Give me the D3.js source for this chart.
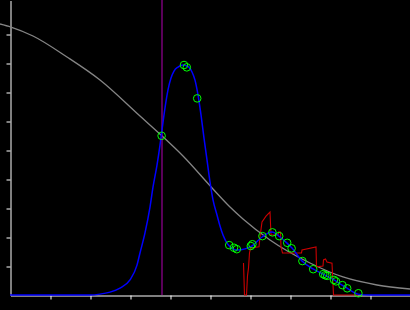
<!DOCTYPE html>
<html>
<head>
<meta charset="utf-8">
<script src="https://cdn.jsdelivr.net/npm/d3@7"></script>
<style>
  html, body { margin: 0; padding: 0; background: #000; }
  svg { display: block; }
</style>
</head>
<body>
<div id="chart"></div>
<script>
// tick positions on both axes (no labels in the picture)
var xTicks = [1, 2, 3, 4, 5, 6, 7, 8, 9];
var yTicks = [1, 2, 3, 4, 5, 6, 7, 8, 9];

// marker position (purple vertical line)
var markerX = 3.8;

// grey falling curve
var greyX = [-0.25, 0.025, 0.575, 1.425, 2.25, 3.25, 3.775, 4.325, 5.075, 5.5, 5.825, 6.5, 7.5, 8.325, 9.175, 10];
var greyY = [9.345, 9.241, 8.931, 8.207, 7.414, 6.172, 5.517, 4.793, 3.655, 3.034, 2.621, 1.897, 1.103, 0.621, 0.345, 0.207];

// blue curve
var blueX = [0, 2.0, 2.25, 2.5, 2.75, 3.0, 3.175, 3.25, 3.375, 3.5, 3.575, 3.675, 3.75, 3.8, 3.875, 3.95,
             4.025, 4.1, 4.2, 4.325, 4.4, 4.475, 4.55, 4.625, 4.7, 4.775, 4.85, 4.925, 5.0, 5.075, 5.175,
             5.25, 5.325, 5.45, 5.675, 5.875, 6.05, 6.3, 6.55, 6.75, 6.925, 7.05, 7.3, 7.575, 7.825,
             8.1, 8.3, 8.425, 8.7, 9.0, 10];
var blueY = [0, 0, 0.03, 0.10, 0.24, 0.52, 1.03, 1.45, 2.14, 3.03, 3.72, 4.48, 5.17, 5.69, 6.45, 7.07,
             7.48, 7.72, 7.86, 7.93, 7.91, 7.85, 7.69, 7.41, 6.90, 6.21, 5.41, 4.66, 3.90, 3.28, 2.76,
             2.38, 2.07, 1.74, 1.55, 1.59, 1.69, 2.0, 2.17, 2.0, 1.79, 1.62, 1.17, 0.90, 0.72,
             0.52, 0.34, 0.24, 0.03, 0, 0];

// red jagged line
var redX = [5.8375, 5.8625, 5.9125, 5.9375, 5.9625, 5.9875, 6.0125, 6.225, 6.25, 6.3, 6.4, 6.5, 6.525,
            6.7, 6.7125, 6.7625, 6.775, 6.8125, 7.2875, 7.3, 7.65, 7.6625, 7.825, 7.8375, 7.8875,
            7.925, 8.05, 8.0875, 8.7];
var redY = [1.10, 0, 0, 0.66, 0.93, 1.45, 1.62, 1.66, 2.0, 2.52, 2.72, 2.86, 2.07,
            2.07, 2.17, 2.17, 1.66, 1.45, 1.45, 1.55, 1.66, 0.97, 1.0, 1.21, 1.24,
            1.14, 1.10, 0, 0];

// green sample points
var ptX = [3.79, 4.35, 4.42, 4.68, 5.48, 5.60, 5.67, 6.02, 6.06, 6.31, 6.56, 6.73, 6.93, 7.04,
           7.31, 7.58, 7.83, 7.88, 7.93, 8.10, 8.15, 8.31, 8.43, 8.71];
var ptY = [5.49, 7.93, 7.85, 6.78, 1.72, 1.63, 1.58, 1.69, 1.75, 2.03, 2.16, 2.03, 1.80, 1.61,
           1.17, 0.89, 0.72, 0.68, 0.66, 0.52, 0.47, 0.34, 0.23, 0.06];

var width = 410, height = 310;

var svg = d3.select("#chart")
  .append("svg")
    .attr("width", width)
    .attr("height", height)
    .style("background", "#000");

var x = d3.scaleLinear().domain([0, 10]).range([10, 410]);
var y = d3.scaleLinear().domain([0, 295 / 29]).range([295, 0]);

function zip(xs, ys) {
  return xs.map(function(d, i) { return [d, ys[i]]; });
}

var line = d3.line()
  .x(function(d) { return x(d[0]); })
  .y(function(d) { return y(d[1]); });

// axes
svg.append("g")
  .attr("transform", "translate(0.5,295.5)")
  .call(d3.axisBottom(x).tickValues(xTicks).tickSize(4).tickSizeOuter(0).tickFormat(""));
svg.append("g")
  .attr("transform", "translate(10.5,0.5)")
  .call(d3.axisLeft(y).tickValues(yTicks).tickSize(4).tickSizeOuter(0).tickFormat(""));
svg.selectAll(".domain, .tick line").attr("stroke", "#fff").attr("stroke-width", 1);

// grey curve
svg.append("path")
  .datum(zip(greyX, greyY))
  .attr("fill", "none")
  .attr("stroke", "#858585")
  .attr("stroke-width", 1.3)
  .attr("d", line.curve(d3.curveMonotoneX));

// purple marker
svg.append("line")
  .attr("x1", x(markerX)).attr("x2", x(markerX))
  .attr("y1", 0).attr("y2", y(0))
  .attr("stroke", "#8a008a")
  .attr("stroke-width", 1.3);

// red line
svg.append("path")
  .datum(zip(redX, redY))
  .attr("fill", "none")
  .attr("stroke", "#cc0000")
  .attr("stroke-width", 1.1)
  .attr("d", line.curve(d3.curveLinear));

// blue curve
svg.append("path")
  .datum(zip(blueX, blueY))
  .attr("fill", "none")
  .attr("stroke", "#0000ff")
  .attr("stroke-width", 1.5)
  .attr("d", line.curve(d3.curveMonotoneX));

// points
svg.selectAll("circle.pt")
  .data(zip(ptX, ptY))
  .enter()
  .append("circle")
    .attr("class", "pt")
    .attr("cx", function(d) { return x(d[0]); })
    .attr("cy", function(d) { return y(d[1]); })
    .attr("r", 3.8)
    .attr("fill", "none")
    .attr("stroke", "#00ff00")
    .attr("stroke-width", 1);
</script>
</body>
</html>
